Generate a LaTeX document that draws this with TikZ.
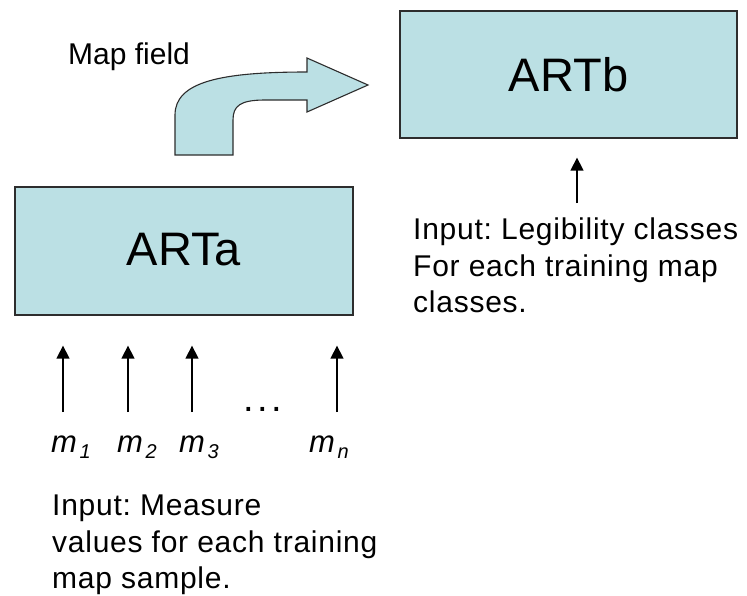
\documentclass[tikz,border=0pt]{standalone}
\usepackage{fontspec}
\setmainfont{Liberation Sans}
\usetikzlibrary{arrows.meta}
\definecolor{artfill}{RGB}{187,224,228}
\definecolor{artline}{RGB}{45,45,45}
\newcommand{\msub}[1]{\textit{m}\kern2.5pt\raisebox{-6pt}{\fontsize{20}{20}\selectfont\textit{#1}}}
\frenchspacing
\begin{document}
\begin{tikzpicture}[x=1pt,y=-1pt,
  artbox/.style={draw=artline,line width=1.3pt,fill=artfill,inner sep=0pt,
    font=\fontsize{47}{50}\selectfont},
  txt/.style={inner sep=0pt,font=\fontsize{30}{36.5}\selectfont\addfontfeatures{LetterSpace=2.5},align=left},
  mlab/.style={inner sep=0pt,font=\fontsize{31}{34}\selectfont},
  inarrow/.style={line width=1.4pt,-{Triangle[width=13pt,length=13pt]}}]
\useasboundingbox (0,0) rectangle (747,595);
% boxes
\node[artbox,minimum width=338pt,minimum height=128pt] (arta) at (184,251) {\raisebox{3pt}{ARTa}};
\node[artbox,minimum width=337pt,minimum height=127pt] (artb) at (568.5,74.5) {ARTb};
% map field arrow
\draw[artline,line width=1.1pt,fill=artfill,line join=miter]
  (175,155) -- (175,115) .. controls (175,82) and (220,72) .. (307,72)
  -- (307,58) -- (368,85) -- (307,112) -- (307,100) -- (265,100)
  .. controls (240,100) and (233,106) .. (233,120) -- (233,155) -- cycle;
\node[inner sep=0pt,anchor=base west,font=\fontsize{30}{36}\selectfont] (mapfield) at (68,64) {Map field};
% ARTb input
\coordinate (bsrc) at (577,203);
\draw[inarrow,shorten >=19pt] (bsrc) -- (bsrc |- artb.south);
\node[txt,anchor=north west] (binput) at (413,218) {Input: Legibility classes\\For each training map\\classes.};
% ARTa inputs
\coordinate (s1) at (63,412);
\coordinate (s2) at (128,412);
\coordinate (s3) at (192,412);
\coordinate (sn) at (337,412);
\foreach \s in {s1,s2,s3,sn}
  \draw[inarrow,shorten >=30pt] (\s) -- (\s |- arta.south);
\node[mlab,anchor=base west] (m1) at (51,452) {\msub{1}};
\node[mlab,anchor=base west] (m2) at (117,452) {\msub{2}};
\node[mlab,anchor=base west] (m3) at (179,452) {\msub{3}};
\node[mlab,anchor=base west] (mn) at (309,452) {\msub{n}};
\node[inner sep=0pt,anchor=base west,font=\fontsize{38}{40}\selectfont] (dots) at (243,411) {.\kern3.5pt.\kern3.5pt.};
\node[txt,anchor=north west] (ainput) at (52,495) {Input: Measure\\values for each training\\map sample.};
\end{tikzpicture}
\end{document}
